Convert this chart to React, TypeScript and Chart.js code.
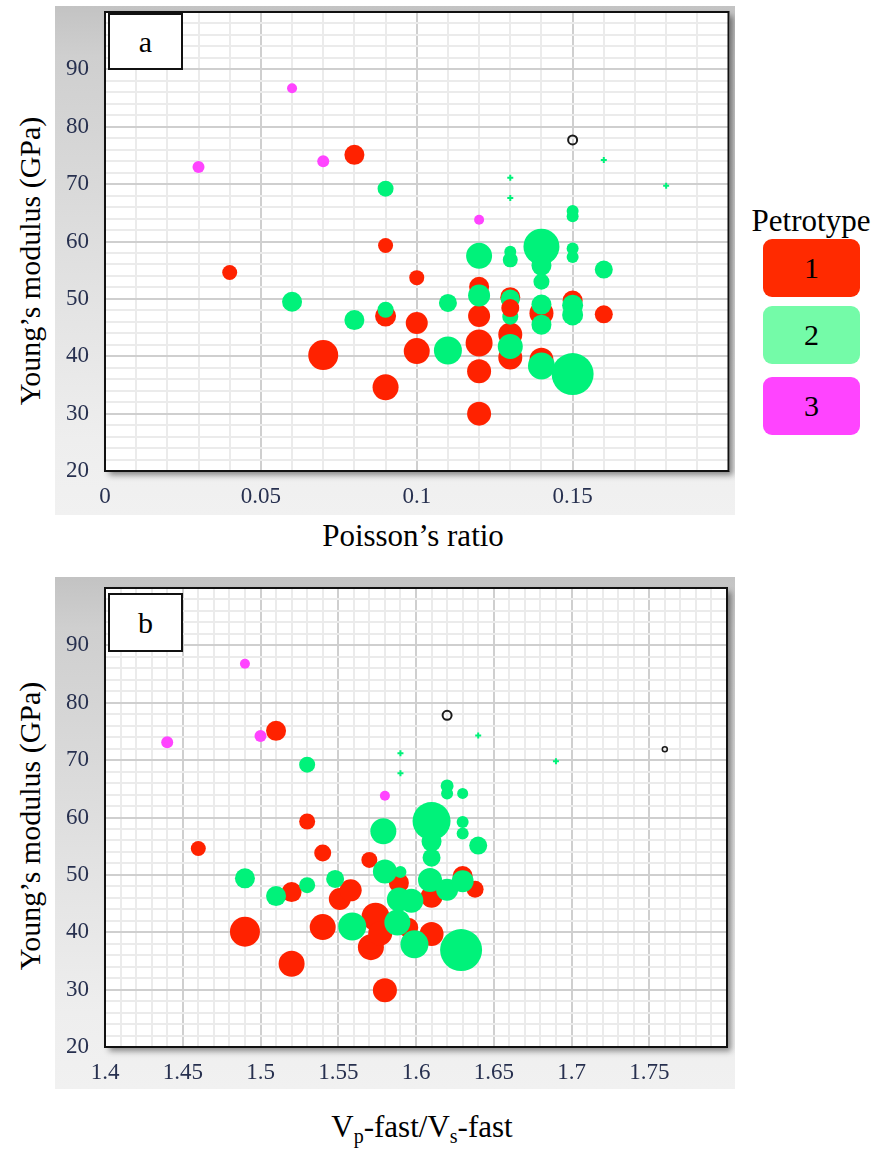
import React, { useEffect, useRef } from 'react';
import Chart from 'chart.js/auto';

type Pt = [number, number, number]; // [x value, Young's modulus, bubble radius px]

// ---------- Panel a : Poisson's ratio vs Young's modulus ----------
const aType1Back: Pt[] = [
  [0.04, 54.6, 7.5], [0.08, 75.1, 10], [0.09, 59.3, 7.5], [0.10, 53.7, 7.5],
  [0.09, 47.0, 10.5], [0.10, 45.8, 11], [0.10, 40.9, 13], [0.07, 40.2, 15],
  [0.09, 34.6, 13], [0.12, 52.1, 10], [0.12, 47.0, 11], [0.12, 42.3, 13.5],
  [0.12, 37.4, 12], [0.12, 30.0, 12], [0.13, 50.3, 10], [0.13, 43.8, 12],
  [0.13, 39.8, 12], [0.14, 47.5, 12], [0.14, 39.4, 12], [0.15, 49.7, 10],
  [0.16, 47.3, 9],
];
const aType1Front: Pt[] = [[0.13, 48.4, 9]];
const aType2: Pt[] = [
  [0.06, 49.5, 10], [0.08, 46.3, 10], [0.09, 69.2, 8], [0.09, 48.1, 8],
  [0.11, 49.3, 9], [0.11, 41.0, 14], [0.12, 57.5, 13], [0.12, 50.6, 11],
  [0.13, 58.2, 6], [0.13, 56.8, 7.5], [0.13, 50.0, 9.5], [0.13, 46.9, 8],
  [0.13, 41.7, 12.5], [0.14, 59.1, 18], [0.14, 55.8, 10], [0.14, 53.0, 8],
  [0.14, 49.0, 10], [0.14, 45.5, 10], [0.14, 38.3, 13.5], [0.15, 65.3, 6],
  [0.15, 64.4, 6], [0.15, 58.8, 6], [0.15, 57.3, 6], [0.15, 48.9, 10.5],
  [0.15, 47.2, 10.5], [0.15, 36.9, 21], [0.16, 55.1, 9],
];
const aType2Tiny: Pt[] = [[0.13, 71.1, 3], [0.13, 67.6, 3], [0.16, 74.2, 3], [0.18, 69.7, 3]];
const aType3: Pt[] = [[0.03, 73.0, 6], [0.06, 86.7, 5], [0.07, 74.0, 6], [0.12, 63.8, 5]];
const aOpen: Pt[] = [[0.15, 77.7, 4.5]];
const aOpenTiny: Pt[] = [];

// ---------- Panel b : Vp-fast/Vs-fast vs Young's modulus ----------
const bType1Back: Pt[] = [
  [1.46, 54.6, 7.5], [1.51, 75.1, 10], [1.53, 59.3, 8], [1.54, 53.8, 8.5],
  [1.49, 40.1, 15], [1.52, 47.0, 10], [1.52, 34.5, 13], [1.54, 40.9, 13],
  [1.551, 45.8, 11], [1.558, 47.3, 11], [1.57, 52.6, 8], [1.574, 42.7, 14],
  [1.571, 37.4, 13], [1.577, 39.8, 12], [1.58, 29.9, 12], [1.589, 48.6, 10],
  [1.595, 40.8, 10], [1.61, 46.2, 11], [1.61, 39.7, 12], [1.63, 49.8, 10],
  [1.638, 47.5, 8.5],
];
const bType1Front: Pt[] = [];
const bType2: Pt[] = [
  [1.49, 49.4, 10], [1.51, 46.3, 10], [1.53, 69.2, 8], [1.53, 48.2, 8],
  [1.548, 49.3, 9], [1.559, 41.0, 14], [1.579, 57.6, 13], [1.58, 50.6, 12],
  [1.59, 50.5, 6], [1.589, 45.7, 12], [1.597, 45.5, 12], [1.588, 41.7, 13],
  [1.599, 37.9, 14], [1.61, 59.4, 19], [1.61, 55.8, 10], [1.61, 53.0, 9],
  [1.609, 49.1, 12], [1.62, 65.5, 6.5], [1.62, 64.2, 6], [1.62, 47.4, 11],
  [1.63, 64.2, 5.5], [1.63, 59.2, 6], [1.63, 57.2, 6], [1.63, 48.9, 11],
  [1.629, 36.9, 21], [1.64, 55.1, 9],
];
const bType2Tiny: Pt[] = [[1.59, 71.2, 3], [1.59, 67.7, 3], [1.64, 74.3, 3], [1.69, 69.8, 3]];
const bType3: Pt[] = [[1.44, 73.1, 6], [1.49, 86.8, 5], [1.50, 74.2, 6], [1.58, 63.8, 5]];
const bOpen: Pt[] = [[1.62, 77.8, 4.5]];
const bOpenTiny: Pt[] = [[1.76, 71.9, 2.5]];

// ---------- axes ----------
const aXLabels = ['0', '0.05', '0.1', '0.15'];
const bXLabels = ['1.4', '1.45', '1.5', '1.55', '1.6', '1.65', '1.7', '1.75'];
const yLabels = ['20', '30', '40', '50', '60', '70', '80', '90'];
const aXRange = [0, 0.2];
const bXRange = [1.4, 1.8];
const yRange = [20, 100];
const xMinorStep = 0.01;
const xMajorStep = 0.05;
const yMinorStep = 2;
const yMajorStep = 10;

const petrotypes = ['1', '2', '3'];
const RED = '#ff2200';
const GREEN = '#00f27a';
const MAGENTA = '#ff44ff';
const legendColors = ['#ff2a00', '#74fba8', '#ff44ff'];

const toData = (pts: Pt[]) => pts.map(([x, y, r]) => ({ x, y, r }));

const rangeTicks = (min: number, max: number, step: number) => {
  const n = Math.round((max - min) / step);
  const out: { value: number }[] = [];
  for (let i = 0; i <= n; i++) out.push({ value: +(min + i * step).toFixed(4) });
  return out;
};

const isMultiple = (v: number, step: number) => Math.abs(v / step - Math.round(v / step)) < 1e-6;

const zeroPad = (s: any) => {
  s.paddingTop = 0; s.paddingBottom = 0; s.paddingLeft = 0; s.paddingRight = 0;
};

const framePlugin = {
  id: 'frame',
  beforeDraw(chart: any) {
    const { ctx, chartArea: a } = chart;
    ctx.save();
    ctx.shadowColor = 'rgba(0,0,0,0.45)';
    ctx.shadowBlur = 6;
    ctx.shadowOffsetX = 4;
    ctx.shadowOffsetY = 4;
    ctx.fillStyle = '#ffffff';
    ctx.fillRect(a.left, a.top, a.right - a.left, a.bottom - a.top);
    ctx.restore();
  },
  afterDatasetsDraw(chart: any) {
    const { ctx, chartArea: a } = chart;
    ctx.save();
    ctx.strokeStyle = '#111111';
    ctx.lineWidth = 2;
    ctx.strokeRect(a.left, a.top, a.right - a.left, a.bottom - a.top);
    ctx.restore();
  },
};

interface PanelData {
  t1Back: Pt[]; t1Front: Pt[]; t2: Pt[]; t2Tiny: Pt[]; t3: Pt[]; open: Pt[]; openTiny: Pt[];
  xRange: number[]; xLabels: string[];
  padTop: number; padRight: number; xHeight: number;
}

function makeConfig(p: PanelData): any {
  const tickFont = { family: '"Liberation Serif", serif', size: 23 };
  const tickColor = '#27304f';
  const bubble = (data: Pt[], color: string, order: number) => ({
    type: 'bubble', data: toData(data), backgroundColor: color, borderWidth: 0,
    borderColor: color, order, clip: false,
  });
  return {
    type: 'bubble',
    data: {
      datasets: [
        bubble(p.t1Back, RED, 10),
        bubble(p.t2, GREEN, 9),
        bubble(p.t1Front, RED, 8),
        { ...bubble(p.t2Tiny, GREEN, 7), pointStyle: 'cross', borderWidth: 2, borderColor: GREEN },
        bubble(p.t3, MAGENTA, 6),
        { ...bubble(p.open, 'rgba(0,0,0,0)', 5), borderWidth: 2, borderColor: '#1a1a1a' },
        { ...bubble(p.openTiny, 'rgba(0,0,0,0)', 4), borderWidth: 1.5, borderColor: '#1a1a1a' },
      ],
    },
    options: {
      animation: false,
      responsive: false,
      events: [],
      layout: { autoPadding: false, padding: { left: 0, right: p.padRight, top: p.padTop, bottom: 0 } },
      plugins: { legend: { display: false }, tooltip: { enabled: false }, title: { display: false } },
      scales: {
        x: {
          type: 'linear', min: p.xRange[0], max: p.xRange[1],
          afterBuildTicks: (s: any) => { s.ticks = rangeTicks(p.xRange[0], p.xRange[1], xMinorStep); },
          afterFit: (s: any) => { s.height = p.xHeight; zeroPad(s); },
          border: { display: false },
          grid: {
            drawTicks: false, lineWidth: 2,
            color: (c: any) => (isMultiple(c.tick.value, xMajorStep) ? '#cfcfcf' : '#ebebeb'),
          },
          ticks: {
            autoSkip: false, maxRotation: 0, padding: 12, color: tickColor, font: tickFont,
            callback: (v: number) => {
              const lab = p.xLabels.find((l) => Math.abs(Number(l) - v) < 1e-6);
              return lab === undefined ? '' : lab;
            },
          },
        },
        y: {
          type: 'linear', min: yRange[0], max: yRange[1],
          afterBuildTicks: (s: any) => { s.ticks = rangeTicks(yRange[0], yRange[1], yMinorStep); },
          afterFit: (s: any) => { s.width = 50; zeroPad(s); },
          border: { display: false },
          grid: {
            drawTicks: false, lineWidth: 2,
            color: (c: any) => (isMultiple(c.tick.value, yMajorStep) ? '#cfcfcf' : '#ebebeb'),
          },
          ticks: {
            autoSkip: false, padding: 16, color: tickColor, font: tickFont,
            callback: (v: number) => {
              const lab = yLabels.find((l) => Math.abs(Number(l) - v) < 1e-6);
              return lab === undefined ? '' : lab;
            },
          },
        },
      },
    },
    plugins: [framePlugin],
  };
}

function Panel({ p, left, top, width, height }: { p: PanelData; left: number; top: number; width: number; height: number }) {
  const ref = useRef<HTMLCanvasElement | null>(null);
  useEffect(() => {
    if (!ref.current) return;
    const chart = new Chart(ref.current, makeConfig(p));
    return () => chart.destroy();
  }, []);
  return (
    <>
      <div style={{
        position: 'absolute', left, top, width, height,
        background: 'linear-gradient(to bottom, #c3c3c3 0%, #cfcfcf 10%, #d9d9d9 35%, #e4e4e4 60%, #eeeeee 85%, #f1f1f1 100%)',
      }} />
      <div style={{ position: 'absolute', left, top, width, height }}>
        <canvas ref={ref} width={width} height={height} style={{ width, height, display: 'block' }} />
      </div>
    </>
  );
}

const serif = '"Liberation Serif", "Times New Roman", serif';

const panelA: PanelData = {
  t1Back: aType1Back, t1Front: aType1Front, t2: aType2, t2Tiny: aType2Tiny, t3: aType3,
  open: aOpen, openTiny: aOpenTiny, xRange: aXRange, xLabels: aXLabels,
  padTop: 6, padRight: 6.5, xHeight: 44,
};
const panelB: PanelData = {
  t1Back: bType1Back, t1Front: bType1Front, t2: bType2, t2Tiny: bType2Tiny, t3: bType3,
  open: bOpen, openTiny: bOpenTiny, xRange: bXRange, xLabels: bXLabels,
  padTop: 11, padRight: 8, xHeight: 42,
};

function LabelBox({ text, left, top, h }: { text: string; left: number; top: number; h: number }) {
  return (
    <div style={{
      position: 'absolute', left, top, width: 75, height: h, boxSizing: 'border-box',
      border: '2px solid #111', background: '#fff', display: 'flex', alignItems: 'center',
      justifyContent: 'center', fontFamily: serif, fontSize: 30, color: '#000', zIndex: 2,
    }}>{text}</div>
  );
}

function YTitle({ cy }: { cy: number }) {
  return (
    <div style={{
      position: 'absolute', left: 30, top: cy, transform: 'translate(-50%, -50%) rotate(-90deg)',
      whiteSpace: 'nowrap', fontFamily: serif, fontSize: 30, color: '#000', lineHeight: 1,
    }}>Young’s modulus (GPa)</div>
  );
}

export default function App() {
  const boxTops = [239, 306, 377];
  return (
    <div style={{ position: 'absolute', left: 0, top: 0, width: 877, height: 1149, background: '#fff', overflow: 'hidden' }}>
      <Panel p={panelA} left={55} top={6} width={680} height={509} />
      <LabelBox text="a" left={108} top={13} h={57} />
      <YTitle cy={261} />
      <div style={{
        position: 'absolute', left: 413, top: 535, transform: 'translate(-50%, -50%)', whiteSpace: 'nowrap',
        fontFamily: serif, fontSize: 31, lineHeight: 1, color: '#000',
      }}>Poisson’s ratio</div>

      <Panel p={panelB} left={55} top={577} width={680} height={512} />
      <LabelBox text="b" left={108} top={593} h={59} />
      <YTitle cy={826} />
      <div style={{
        position: 'absolute', left: 422, top: 1128, transform: 'translate(-50%, -50%)', whiteSpace: 'nowrap',
        fontFamily: serif, fontSize: 31, lineHeight: 1, color: '#000',
      }}>V<sub style={{ fontSize: 20, verticalAlign: -6 }}>p</sub>-fast/V<sub style={{ fontSize: 20, verticalAlign: -6 }}>s</sub>-fast</div>

      <div style={{
        position: 'absolute', left: 811, top: 220, transform: 'translate(-50%, -50%)', whiteSpace: 'nowrap',
        fontFamily: serif, fontSize: 31, lineHeight: 1, color: '#000',
      }}>Petrotype</div>
      {petrotypes.map((t, i) => (
        <div key={t} style={{
          position: 'absolute', left: 763, top: boxTops[i], width: 97, height: 58, borderRadius: 9,
          background: legendColors[i], display: 'flex', alignItems: 'center', justifyContent: 'center',
          fontFamily: serif, fontSize: 30, color: '#000',
        }}>{t}</div>
      ))}
    </div>
  );
}
